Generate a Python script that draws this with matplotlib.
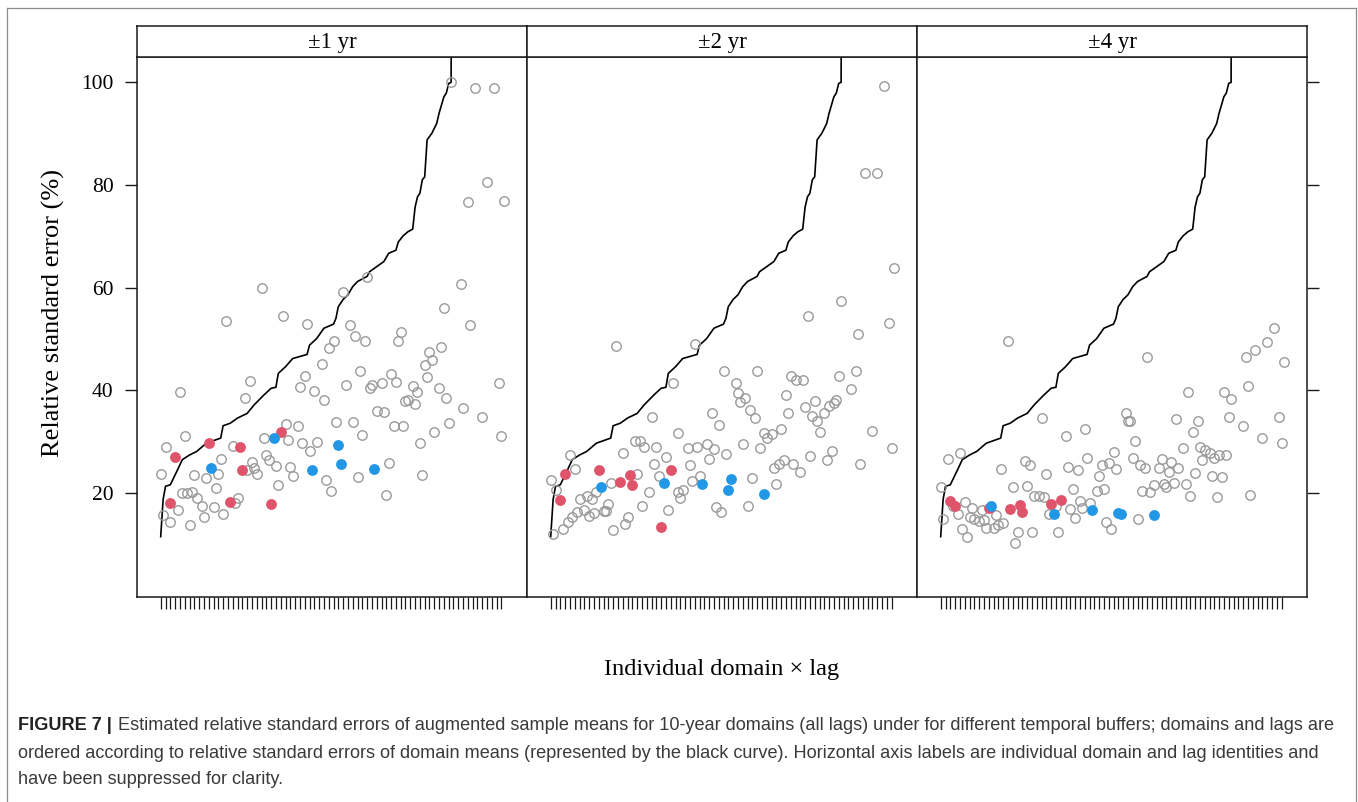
import matplotlib
matplotlib.use("Agg")
import matplotlib.pyplot as plt
from matplotlib.lines import Line2D

# ---------------- data ----------------
panel_titles = ["\u00b11 yr", "\u00b12 yr", "\u00b14 yr"]
y_ticks = [20, 40, 60, 80, 100]
n_positions = 144

# black curve: relative standard error of domain means (ordered)
curve_x = [1, 2, 3, 5, 8, 10, 13, 16, 20, 26, 27, 30, 33, 37, 40, 44, 47, 49, 50, 53, 56,
           62, 63, 66, 69, 73, 74, 75, 77, 79, 81, 83, 87, 88, 91, 94, 96, 99, 100, 102,
           104, 106, 107, 108, 109, 110, 111, 112, 114, 116, 117, 119, 120, 121, 122, 123]
curve_y = [11.5, 18.7, 21.3, 21.6, 24.5, 26.5, 27.4, 28.1, 29.7, 30.7, 33.1, 33.6, 34.6,
           35.5, 37.2, 39.1, 40.4, 40.6, 43.3, 44.6, 46.2, 47.0, 48.8, 50.1, 52.1, 52.9,
           54.0, 56.3, 57.7, 58.6, 60.2, 61.2, 62.2, 63.1, 64.1, 65.1, 66.7, 67.3, 68.9,
           70.1, 70.9, 71.4, 75.7, 77.7, 78.4, 81.0, 81.6, 88.8, 90.1, 92.0, 94.0, 97.2,
           97.9, 99.8, 100.0, 250.0]

# panel 1 (+-1 yr) grey points
p1_x = [119, 28, 52, 62, 80, 82, 86, 73, 71, 101, 100, 130, 118, 113, 114, 111, 68, 84, 61,
        59, 65, 69, 78, 88, 89, 93, 97, 99, 106, 108, 104, 103, 107, 112, 117, 120, 142, 127,
        135, 143, 121, 115, 109, 110, 102, 98, 91, 94, 85, 81, 74, 66, 63, 60, 58, 53, 54,
        44, 38, 36, 9, 11, 3, 1, 15, 20, 25, 26, 31, 24, 10, 12, 14, 16, 18, 23, 19, 13, 5,
        2, 8, 27, 32, 33, 37, 39, 40, 41, 45, 46, 49, 50, 55, 56, 70, 72, 83, 96, 95,
        122, 132, 140, 137, 129, 144, 126, 87, 77, 43]
p1_y = [56.0, 53.6, 54.4, 52.9, 52.7, 50.5, 49.7, 49.7, 48.2, 51.4, 49.7, 52.7, 48.5, 47.5,
        46.0, 44.9, 45.2, 43.7, 42.7, 40.6, 39.9, 38.2, 41.0, 40.4, 41.0, 41.5, 43.1, 41.7,
        40.8, 39.6, 38.1, 37.9, 37.3, 42.6, 40.4, 38.6, 41.4, 36.6, 34.8, 31.1, 33.6, 31.9,
        29.7, 23.6, 33.0, 33.1, 35.9, 35.7, 31.3, 33.9, 33.8, 29.9, 28.1, 29.8, 33.0, 33.5,
        30.4, 30.7, 41.8, 38.5, 39.6, 31.2, 29.0, 23.7, 23.5, 23.0, 23.7, 26.6, 29.2, 21.0,
        20.0, 20.0, 20.1, 19.0, 17.5, 17.2, 15.3, 13.7, 14.4, 15.7, 16.6, 16.0, 18.1, 19.0,
        24.5, 26.1, 24.8, 23.7, 27.5, 26.4, 25.3, 21.5, 25.1, 23.3, 22.5, 20.4, 23.2, 25.8,
        19.6, 100.0, 98.9, 98.9, 80.6, 76.6, 76.9, 60.7, 62.1, 59.1, 60.0]

# panel 2 (+-2 yr) grey points
p2_x = [140, 132, 137, 144, 122, 108, 142, 129, 28, 61, 52, 73, 87, 78, 79, 82, 80, 84, 86,
        101, 103, 106, 99, 100, 107, 111, 110, 112, 115, 117, 119, 120, 121, 128, 126, 135,
        143, 130, 113, 118, 116, 109, 105, 102, 98, 96, 94, 95, 97, 93, 91, 90, 88, 85, 83,
        81, 74, 71, 68, 69, 66, 67, 62, 58, 59, 63, 60, 70, 72, 54, 49, 44, 45, 40, 38, 36,
        43, 37, 46, 42, 39, 54, 56, 55, 50, 33, 32, 27, 31, 26, 25, 24, 23, 19, 17, 18, 16,
        13, 20, 15, 12, 10, 8, 6, 2, 1, 3, 9, 11]
p2_y = [99.3, 82.4, 82.4, 63.9, 57.5, 54.5, 53.1, 50.9, 48.6, 49.0, 41.4, 43.7, 43.8, 41.4,
        39.4, 38.6, 37.7, 36.1, 34.6, 42.8, 42.1, 42.1, 39.0, 35.5, 36.7, 37.9, 35.0, 34.1,
        35.5, 37.0, 37.6, 38.1, 42.8, 43.8, 40.3, 32.0, 28.7, 25.7, 31.8, 28.1, 26.4, 27.2,
        24.0, 25.7, 26.4, 25.7, 24.9, 21.8, 32.5, 31.4, 30.8, 31.6, 28.7, 22.9, 17.5, 29.6,
        27.6, 33.3, 35.5, 28.6, 29.6, 26.6, 29.0, 28.8, 25.4, 23.4, 22.4, 17.3, 16.3, 31.6,
        27.0, 25.7, 29.0, 29.0, 30.1, 30.2, 34.9, 23.7, 23.3, 20.2, 17.5, 20.1, 20.5, 19.0,
        16.6, 15.4, 14.0, 12.7, 27.7, 22.0, 17.9, 16.4, 16.4, 16.1, 15.6, 18.8, 19.4, 18.8,
        20.1, 16.6, 16.3, 15.4, 14.4, 12.9, 12.0, 22.5, 20.5, 27.4, 24.6]

# panel 3 (+-4 yr) grey points
p3_x = [29, 87, 140, 137, 132, 128, 144, 129, 104, 119, 122, 121, 127, 142, 135, 143, 130,
        78, 79, 80, 99, 108, 106, 82, 61, 53, 43, 102, 109, 111, 113, 110, 115, 117, 120,
        107, 114, 118, 116, 105, 103, 98, 95, 94, 90, 88, 85, 100, 97, 96, 93, 92, 86, 84,
        81, 74, 73, 71, 68, 67, 69, 66, 62, 58, 54, 56, 59, 60, 63, 55, 57, 70, 72, 83, 50,
        49, 46, 45, 36, 38, 37, 40, 42, 44, 31, 26, 33, 32, 39, 24, 27, 25, 23, 20, 19, 17,
        15, 13, 14, 18, 11, 8, 10, 12, 2, 1, 4, 9, 6]
p3_y = [49.6, 46.4, 52.2, 49.4, 47.9, 46.4, 45.5, 40.8, 39.7, 39.7, 38.4, 34.9, 33.1, 34.8,
        30.7, 29.8, 19.6, 35.6, 34.1, 34.1, 34.5, 34.0, 31.8, 30.1, 32.5, 31.2, 34.6, 28.8,
        29.0, 28.3, 27.7, 26.4, 26.8, 27.4, 27.5, 23.9, 23.3, 23.2, 19.3, 19.4, 21.8, 22.0,
        21.1, 21.8, 21.6, 20.2, 20.3, 24.9, 26.0, 24.1, 26.7, 24.9, 24.8, 25.5, 26.9, 24.6,
        28.0, 25.9, 25.4, 23.3, 20.7, 20.4, 26.9, 24.4, 25.1, 20.7, 18.5, 17.0, 18.0, 16.8,
        15.1, 14.4, 13.0, 15.0, 12.5, 17.5, 16.0, 23.8, 26.2, 25.5, 21.4, 19.4, 19.4, 19.2,
        21.2, 24.6, 12.4, 10.3, 12.5, 15.7, 14.2, 13.7, 13.2, 13.1, 14.7, 14.6, 14.9, 15.3,
        17.0, 16.7, 18.2, 16.0, 12.9, 11.4, 14.9, 21.2, 26.7, 27.7, 17.4]

# highlighted domain x lag positions
red_x = [5, 7, 21, 30, 34, 35, 47, 51]
red_y = [[18.0, 27.0, 29.8, 18.3, 29.0, 24.4, 17.9, 31.8],
         [18.7, 23.7, 24.4, 22.2, 23.6, 21.5, 13.4, 24.4],
         [18.5, 17.5, 17.0, 16.8, 17.7, 16.3, 17.9, 18.7]]
blue_x = [22, 48, 64, 75, 76, 90]
blue_y = [[24.8, 30.7, 24.4, 29.4, 25.7, 24.6],
          [21.2, 21.9, 21.7, 20.5, 22.7, 19.9],
          [17.4, 15.9, 16.6, 16.1, 15.9, 15.7]]

grey_x = [p1_x, p2_x, p3_x]
grey_y = [p1_y, p2_y, p3_y]

caption_bold = "FIGURE 7 |"
caption_lines = [
    "Estimated relative standard errors of augmented sample means for 10-year domains "
    "(all lags) under for different temporal buffers; domains and lags are",
    "ordered according to relative standard errors of domain means (represented by the "
    "black curve). Horizontal axis labels are individual domain and lag identities and",
    "have been suppressed for clarity.",
]

# ---------------- layout ----------------
W, H = 1358, 802
fig = plt.figure(figsize=(W / 100, H / 100), dpi=100)
serif = "Liberation Serif"
sans = ["Liberation Sans Narrow", "Liberation Sans", "DejaVu Sans"]
frame_col = "#1a1a1a"


def rect(x0, y0, x1, y1):
    return [x0 / W, 1 - y1 / H, (x1 - x0) / W, (y1 - y0) / H]


# outer grey border of the figure image
for xs, ys in [([7, 7], [8, 810]), ([7, 1356], [8, 8]), ([1356, 1356], [8, 810])]:
    fig.add_artist(Line2D([x / W for x in xs], [1 - y / H for y in ys],
                          transform=fig.transFigure, color="#8c8c8c", lw=0.9))

lefts = [137.3, 527.3, 917.3]
pw = 390.0
top, bot = 56.7, 596.7
strip_top = 26.0

for i in range(3):
    x0 = lefts[i]
    ax = fig.add_axes(rect(x0, top, x0 + pw, bot))
    ax.set_xlim(-8.75, 153.75)
    ax.set_ylim(-0.2, 105)
    ax.plot(curve_x, curve_y, color="black", lw=1.2, zorder=2)
    ax.plot(grey_x[i], grey_y[i], "o", mfc="none", mec="#9a9a9a", ms=6.8, mew=1.0, zorder=3)
    ax.plot(red_x, red_y[i], "o", color="#DF536B", mec="none", ms=7.8, zorder=4)
    ax.plot(blue_x, blue_y[i], "o", color="#2297E6", mec="none", ms=7.8, zorder=4)
    for s in ax.spines.values():
        s.set_linewidth(1.1)
        s.set_color(frame_col)
    ax.set_xticks(list(range(1, n_positions + 1, 2)))
    ax.set_xticklabels([])
    ax.tick_params(axis="x", direction="out", length=8.6, width=0.9, color=frame_col)
    ax.set_yticks(y_ticks)
    if i == 0:
        ax.tick_params(axis="y", direction="out", length=8.6, width=1.0, color=frame_col,
                       pad=8.6, labelsize=15.5, left=True, right=False)
        ax.set_yticklabels([str(v) for v in y_ticks], fontfamily=serif)
    elif i == 2:
        ax.tick_params(axis="y", direction="out", length=8.6, width=1.0, color=frame_col,
                       left=False, right=True, labelleft=False, labelright=False)
    else:
        ax.tick_params(axis="y", left=False, right=False, labelleft=False)

    sx = fig.add_axes(rect(x0, strip_top, x0 + pw, top))
    sx.set_xticks([])
    sx.set_yticks([])
    for s in sx.spines.values():
        s.set_linewidth(1.1)
        s.set_color(frame_col)
    sx.text(0.5, 0.47, panel_titles[i], ha="center", va="center", fontsize=16.5,
            fontfamily=serif, transform=sx.transAxes)

fig.text(53 / W, 1 - 313 / H, "Relative standard error (%)", rotation=90, ha="center",
         va="center", fontsize=19, fontfamily=serif)
fig.text(722 / W, 1 - 670 / H, "Individual domain \u00d7 lag", ha="center", va="center",
         fontsize=17.6, fontfamily=serif)

# ---- caption, sized so that the first line spans the same width as the original ----
renderer = fig.canvas.get_renderer()
cap_left, cap_right = 18.0, 1338.0
cap_y = [726, 753, 780]
cap_col = "#3a3a3a"

s0 = 12.0
tb = fig.text(cap_left / W, 1 - cap_y[0] / H, caption_bold, fontsize=s0, fontfamily=sans,
              fontweight="bold", color="#222222", ha="left", va="center")
tn = fig.text(0, 1 - cap_y[0] / H, caption_lines[0], fontsize=s0, fontfamily=sans,
              color=cap_col, ha="left", va="center")
wb = tb.get_window_extent(renderer).width
wn = tn.get_window_extent(renderer).width
gap0 = 0.35 * s0 * 100 / 72
scale = (cap_right - cap_left) / (wb + gap0 + wn)
size = s0 * scale
tb.set_fontsize(size)
tn.set_fontsize(size)
wb = tb.get_window_extent(renderer).width
tn.set_x((cap_left + wb + 0.35 * size * 100 / 72) / W)
for k in (1, 2):
    fig.text(cap_left / W, 1 - cap_y[k] / H, caption_lines[k], fontsize=size, fontfamily=sans,
             color=cap_col, ha="left", va="center")

fig.savefig("out.png", dpi=100)
